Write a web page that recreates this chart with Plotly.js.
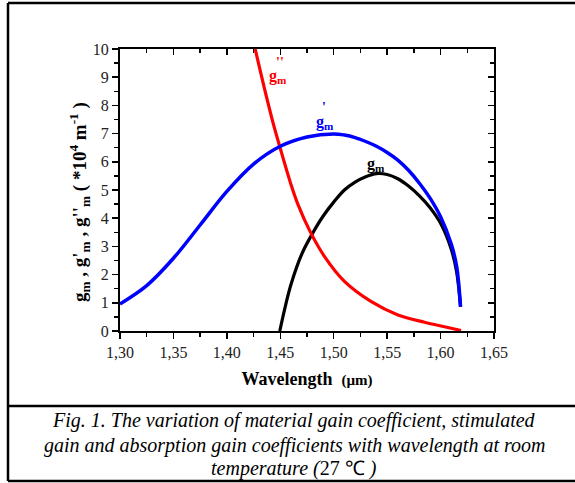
<!DOCTYPE html>
<html>
<head>
<meta charset="utf-8">
<script src="https://cdn.plot.ly/plotly-3.0.1.min.js"></script>
<style>html,body{margin:0;padding:0;background:#fff;}#chart{width:575px;height:483px;}</style>
</head>
<body>
<div id="chart"></div>
<script>
// ---- data ----
// g'm (stimulated gain), blue
const gmPrimeWavelength = [1.300, 1.325, 1.350, 1.375, 1.400, 1.425, 1.450, 1.475, 1.500, 1.510, 1.520, 1.530, 1.540, 1.550, 1.560, 1.570, 1.580, 1.590, 1.600, 1.610, 1.615, 1.6187];
const gmPrimeValues     = [0.96,  1.61,  2.58,  3.76,  4.95,  5.92,  6.55,  6.88,  6.99,  6.95,  6.86,  6.72,  6.55,  6.33,  6.06,  5.70,  5.25,  4.72,  4.05,  3.08,  2.30,  0.86];

// gm (material gain), black
const gmWavelength = [1.4495, 1.455, 1.460, 1.470, 1.480, 1.490, 1.500, 1.510, 1.520, 1.530, 1.540, 1.550, 1.560, 1.570, 1.580, 1.590, 1.600, 1.610, 1.615, 1.6187];
const gmValues     = [0.00,   0.92,  1.65,  2.72,  3.45,  4.07,  4.57,  5.00,  5.28,  5.47,  5.58,  5.55,  5.40,  5.14,  4.80,  4.38,  3.82,  2.90,  2.10,  0.86];

// g''m (absorption gain), red
const gmDoubleWavelength = [1.4265, 1.4355, 1.4433, 1.4495, 1.4604, 1.4667, 1.4776, 1.4916, 1.5103, 1.5352, 1.5601, 1.5850, 1.6037, 1.6192];
const gmDoubleValues     = [10.0,   8.55,   7.37,   6.54,   5.15,   4.47,   3.55,   2.63,   1.75,   1.04,   0.57,   0.31,   0.15,   0.02];

const xTickValues = [1.30, 1.35, 1.40, 1.45, 1.50, 1.55, 1.60, 1.65];
const yTickValues = [0, 1, 2, 3, 4, 5, 6, 7, 8, 9, 10];

// ---- layout geometry (pixels) ----
const W = 575, H = 483;
const L = 120, R = 494, T = 49, B = 331;
const px = x => (x - L) / (R - L);
const py = y => (B - y) / (B - T);

const serif = "Liberation Serif";

const traces = [
  {x: gmPrimeWavelength, y: gmPrimeValues, mode: 'lines', line: {color: '#0000ff', width: 3.5, shape: 'spline', smoothing: 1}, hoverinfo: 'skip'},
  {x: gmWavelength, y: gmValues, mode: 'lines', line: {color: '#000000', width: 3.2, shape: 'spline', smoothing: 1}, hoverinfo: 'skip'},
  {x: gmDoubleWavelength, y: gmDoubleValues, mode: 'lines', line: {color: '#ff0000', width: 3.2, shape: 'spline', smoothing: 1}, hoverinfo: 'skip'},
  {x: [null], y: [null], xaxis: 'x2', yaxis: 'y2', mode: 'lines', hoverinfo: 'skip', showlegend: false}
];
// blue drawn on top of black (as in reference)
const ordered = [traces[1], traces[2], traces[0], traces[3]];

const axisCommon = {
  showgrid: false, zeroline: false, showline: true, linecolor: '#000', linewidth: 2,
  tickcolor: '#000', tickwidth: 1.5, ticklen: 6,
  tickfont: {family: serif, size: 16, color: '#222'}
};

function ann(x, y, text, font, extra) {
  return Object.assign({xref: 'paper', yref: 'paper', x: px(x), y: py(y), xanchor: 'center', yanchor: 'middle',
    showarrow: false, text: text, font: font}, extra || {});
}

const layout = {
  width: W, height: H,
  margin: {l: L, r: W - R, t: T, b: H - B},
  paper_bgcolor: '#fff', plot_bgcolor: '#fff',
  showlegend: false,
  separators: ',.',
  xaxis: Object.assign({}, axisCommon, {
    range: [1.30, 1.65], tickvals: xTickValues, tickformat: '.2f', ticks: 'outside',
    minor: {ticks: 'outside', dtick: 0.025, tick0: 1.30, ticklen: 4, tickwidth: 1.5, tickcolor: '#000'},
    title: {text: '<b>Wavelength  <span style="font-size:15px">(µm)</span></b>', font: {family: serif, size: 18, color: '#000'}, standoff: 12}
  }),
  yaxis: Object.assign({}, axisCommon, {
    range: [0, 10], tickvals: yTickValues, ticks: 'outside',
    minor: {ticks: 'outside', dtick: 0.5, tick0: 0, ticklen: 4, tickwidth: 1.5, tickcolor: '#000'}
  }),
  xaxis2: Object.assign({}, axisCommon, {
    overlaying: 'x', side: 'top', range: [1.30, 1.65], tickvals: xTickValues, ticks: 'inside', showticklabels: false,
    minor: {ticks: 'inside', dtick: 0.025, tick0: 1.30, ticklen: 4, tickwidth: 1.5, tickcolor: '#000'}
  }),
  yaxis2: Object.assign({}, axisCommon, {
    overlaying: 'y', side: 'right', range: [0, 10], tickvals: yTickValues, ticks: 'inside', showticklabels: false,
    minor: {ticks: 'inside', dtick: 0.5, tick0: 0, ticklen: 4, tickwidth: 1.5, tickcolor: '#000'}
  }),
  shapes: [
    {type: 'line', xref: 'paper', yref: 'paper', x0: px(8), x1: px(8), y0: py(3), y1: py(481), line: {color: '#000', width: 2.5}},
    {type: 'line', xref: 'paper', yref: 'paper', x0: px(8), x1: px(580), y0: py(3), y1: py(3), line: {color: '#000', width: 2.5}},
    {type: 'line', xref: 'paper', yref: 'paper', x0: px(8), x1: px(580), y0: py(406), y1: py(406), line: {color: '#000', width: 2.5}},
    {type: 'line', xref: 'paper', yref: 'paper', x0: px(8), x1: px(580), y0: py(481), y1: py(481), line: {color: '#000', width: 2.5}}
  ],
  annotations: [
    // y-axis title
    ann(79, 202, "<b>g<sub>m</sub> , g'<sub>m</sub> , g''<sub>m</sub> ( *10<sup>4</sup> m<sup>-1</sup> )</b>",
        {family: serif, size: 19, color: '#000'}, {textangle: -90}),
    // curve labels
    ann(278, 76, '<b>g<sub>m</sub></b>', {family: serif, size: 16, color: '#ff0000'}),
    ann(280, 62, "<b>''</b>", {family: serif, size: 14, color: '#ff0000'}),
    ann(325, 122, '<b>g<sub>m</sub></b>', {family: serif, size: 16, color: '#0000ff'}),
    ann(324, 107, "<b>'</b>", {family: serif, size: 14, color: '#0000ff'}),
    ann(376, 164, '<b>g<sub>m</sub></b>', {family: serif, size: 16, color: '#000'}),
    // caption
    ann(294, 420, '<i>Fig. 1. The variation of material gain coefficient, stimulated</i>', {family: serif, size: 20, color: '#000'}),
    ann(294, 445, '<i>gain and absorption gain coefficients with wavelength at room</i>', {family: serif, size: 20, color: '#000'}),
    ann(294, 468, '<i>temperature (</i>27 ℃ <i>)</i>', {family: serif, size: 20, color: '#000'})
  ]
};

Plotly.newPlot('chart', ordered, layout, {staticPlot: true, displayModeBar: false});
</script>
</body>
</html>
